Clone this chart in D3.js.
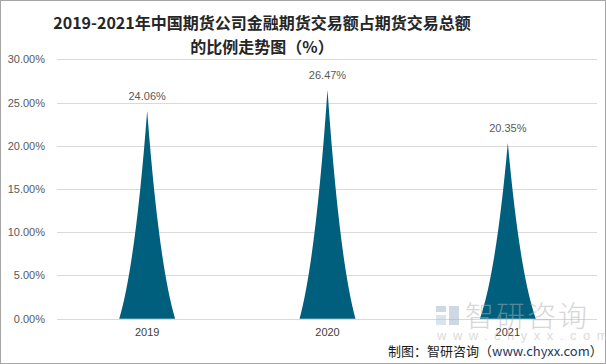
<!DOCTYPE html>
<html><head><meta charset="utf-8">
<script src="https://cdn.jsdelivr.net/npm/d3@7"></script>
<style>html,body{margin:0;padding:0;background:#fff}svg{display:block}</style>
</head><body>
<svg id="c" width="606" height="364"></svg>
<script>
const categories = ["2019", "2020", "2021"];
const values = [24.06, 26.47, 20.35];
const yTicks = [0, 5, 10, 15, 20, 25, 30];

const svg = d3.select("#c");
const W = 606, H = 364;
svg.append("rect").attr("x",0.5).attr("y",0.5).attr("width",W-1).attr("height",H-1)
  .attr("fill","#fff").attr("stroke","#a6a6a6");

const x = d3.scaleBand().domain(categories).range([57, 598]).padding(0);
const y = d3.scaleLinear().domain([0, 30]).range([318.7, 59.3]);

// gridlines
svg.append("g").selectAll("line").data(yTicks).join("line")
  .attr("x1",57).attr("x2",597).attr("y1",d=>Math.round(y(d))+0.5).attr("y2",d=>Math.round(y(d))+0.5)
  .attr("stroke","#d9d9d9").attr("stroke-width",1);

// y axis labels
const yAxis = d3.axisLeft(y).tickValues(yTicks).tickSize(0).tickPadding(0)
  .tickFormat(d=>d.toFixed(2)+"%");
const ga = svg.append("g").attr("transform","translate(45,0)").call(yAxis);
ga.select(".domain").remove();
ga.selectAll("text").attr("font-family","Liberation Sans, Arial, sans-serif").attr("font-size",11).attr("fill","#595959");

// x axis labels
const xAxis = d3.axisBottom(x).tickSize(0).tickPadding(0);
const gx = svg.append("g").attr("transform","translate(0,328)").call(xAxis);
gx.select(".domain").remove();
gx.selectAll("text").attr("font-family","Liberation Sans, Arial, sans-serif").attr("font-size",11).attr("fill","#404040");

// spike shapes (concave-sided)
function spike(d, i){
  const cx = x(categories[i]) + x.bandwidth()/2;
  const hw = x.bandwidth()*0.31/2;
  const y0 = y(0), yt = y(d);
  const h = y0 - yt;
  const c1x = cx - hw*0.42, c2x = cx + hw*0.42, cy = y0 - h*0.26;
  return `M${cx-hw},${y0} Q${c1x},${cy} ${cx},${yt} Q${c2x},${cy} ${cx+hw},${y0} Z`;
}
svg.append("g").selectAll("path").data(values).join("path")
  .attr("d",(d,i)=>spike(d,i)).attr("fill","#015f7e");

// data labels
svg.append("g").selectAll("text").data(values).join("text")
  .attr("x",(d,i)=>x(categories[i])+x.bandwidth()/2)
  .attr("y",d=>y(d)-11)
  .attr("text-anchor","middle")
  .attr("font-family","Liberation Sans, Arial, sans-serif").attr("font-size",11).attr("fill","#595959")
  .text(d=>d.toFixed(2)+"%");

// title
const title = svg.append("text").attr("text-anchor","middle")
  .attr("font-family","Noto Sans CJK SC, sans-serif").attr("font-weight","bold").attr("font-size",16).attr("fill","#262626");
title.append("tspan").attr("x",262).attr("y",29).text("2019-2021年中国期货公司金融期货交易额占期货交易总额");
title.append("tspan").attr("x",262).attr("y",53).text("的比例走势图（%）");

// watermark
const wm = svg.append("g").attr("opacity",0.5);
wm.append("rect").attr("x",436).attr("y",306).attr("width",10).attr("height",6).attr("fill","#9fb3cc");
wm.append("rect").attr("x",436).attr("y",315).attr("width",10).attr("height",10).attr("fill","#b8c8da");
wm.append("rect").attr("x",449).attr("y",306).attr("width",10).attr("height",19).attr("fill","#9fb3cc");
wm.append("text").attr("x",465).attr("y",327).attr("font-family","Noto Sans CJK SC, sans-serif")
  .attr("font-size",29).attr("font-weight",300).attr("fill","#b0b0b0").attr("letter-spacing",2).text("智研咨询");
wm.append("text").attr("x",437).attr("y",340).attr("font-family","Liberation Sans, Arial, sans-serif")
  .attr("font-size",13).attr("fill","#b8b8b8").attr("letter-spacing",6.5).text("www.chyxx.com");

// footer
const ft = svg.append("text").attr("x",388).attr("y",356)
  .attr("font-family","Noto Sans CJK SC, sans-serif").attr("font-size",13).attr("fill","#1a1a1a");
ft.append("tspan").text("制图：智研咨询（");
ft.append("tspan").attr("fill","#203864").text("www.chyxx.com");
ft.append("tspan").text("）");
</script>
</body></html>
